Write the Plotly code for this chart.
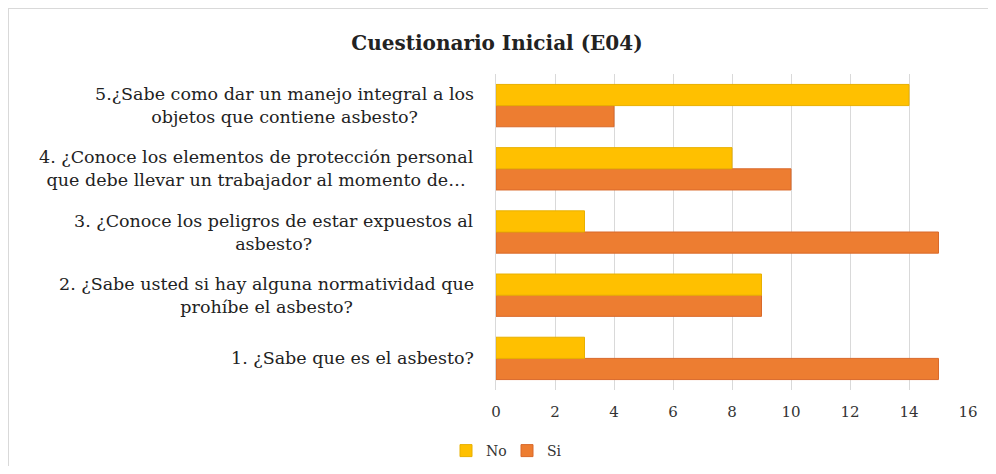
import plotly.graph_objects as go

categories = [
    "1. ¿Sabe que es el asbesto?",
    "2. ¿Sabe usted si hay alguna normatividad que<br>prohíbe el asbesto?",
    "3. ¿Conoce los peligros de estar expuestos al<br>asbesto?",
    "4. ¿Conoce los elementos de protección personal<br>que debe llevar un trabajador al momento de…",
    "5.¿Sabe como dar un manejo integral a los<br>objetos que contiene asbesto?",
]
no_values = [3, 9, 3, 8, 14]
si_values = [15, 9, 15, 10, 4]
x_ticks = [0, 2, 4, 6, 8, 10, 12, 14, 16]

# page body has an 8px margin, so the figure is laid out 8px smaller
W, H = 980, 458
L, R, T, B = 488, 20, 66, 76
pw, ph = W - L - R, H - T - B

serif = "DejaVu Serif"

fig = go.Figure()
fig.add_trace(go.Bar(
    y=categories, x=si_values, orientation="h", name="Si",
    marker=dict(color="#ED7D31", line=dict(color="#D9692A", width=1)),
    legendrank=2,
))
fig.add_trace(go.Bar(
    y=categories, x=no_values, orientation="h", name="No",
    marker=dict(color="#FFC000", line=dict(color="#E8B000", width=1)),
    legendrank=1,
))

annotations = []
for c in categories:
    annotations.append(dict(
        x=0, xref="paper", y=c, yref="y", xanchor="right", yanchor="middle",
        xshift=-20, text=c, showarrow=False, align="center",
        font=dict(family=serif, size=17.5, color="#222222"),
    ))

shapes = [
    dict(type="line", xref="paper", yref="paper",
         x0=(0 - L) / pw, x1=(W - L) / pw,
         y0=1 + (T - 0) / ph, y1=1 + (T - 0) / ph,
         line=dict(color="#D9D9D9", width=2)),
    dict(type="line", xref="paper", yref="paper",
         x0=(0 - L) / pw, x1=(0 - L) / pw,
         y0=1 + (T - 0) / ph, y1=-(H - T - ph) / ph,
         line=dict(color="#D9D9D9", width=2)),
]

fig.update_layout(
    width=W, height=H,
    margin=dict(l=L, r=R, t=T, b=B, autoexpand=False),
    paper_bgcolor="white", plot_bgcolor="white",
    barmode="group", bargap=0.33, bargroupgap=0.0,
    title=dict(text="<b>Cuestionario Inicial (E04)</b>", x=(497 - 8) / W, xanchor="center",
               y=1 - 35 / H, yanchor="middle",
               font=dict(family=serif, size=20, color="#222222")),
    xaxis=dict(range=[0, 16], tickvals=x_ticks, showgrid=True,
               gridcolor="#D9D9D9", gridwidth=1, zeroline=False,
               showline=False, ticks="", ticklabelstandoff=11,
               tickfont=dict(family=serif, size=15, color="#333333")),
    yaxis=dict(showticklabels=False, showgrid=False, showline=True,
               linecolor="#D9D9D9", ticks=""),
    legend=dict(orientation="h", x=(438 - L) / pw, xanchor="left",
                y=-(443 - T - ph) / ph, yanchor="middle",
                entrywidth=16, entrywidthmode="pixels", itemwidth=30,
                font=dict(family=serif, size=14, color="#333333"),
                bgcolor="rgba(0,0,0,0)"),
    annotations=annotations,
    shapes=shapes,
    showlegend=True,
)

fig.write_html("out.html")
